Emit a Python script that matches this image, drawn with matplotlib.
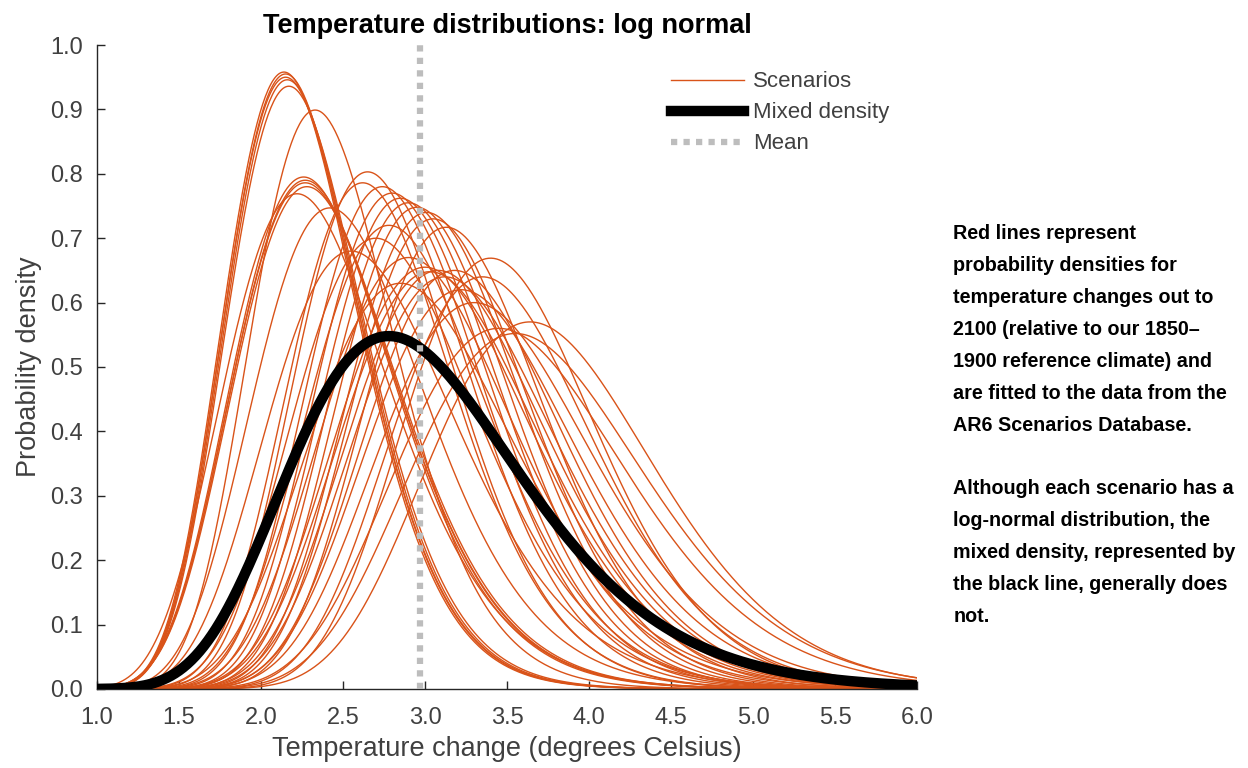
import numpy as np
import matplotlib
matplotlib.use("Agg")
import matplotlib.pyplot as plt

# ---- data ----
# each scenario: mode (deg C) and peak density of its log-normal curve
scenario_modes = [2.14, 2.15, 2.15, 2.16, 2.17,
                  2.33,
                  2.26, 2.27, 2.27, 2.28, 2.22,
                  2.42,
                  2.65, 2.62, 2.74, 2.80, 2.85, 2.90, 2.95, 3.01, 3.05, 3.13,
                  2.55, 2.70, 2.78, 2.90, 3.00, 3.03, 3.08, 3.12, 3.18, 3.22, 3.30,
                  3.40, 3.45, 3.55, 3.64, 2.85, 3.35]
scenario_peaks = [0.958, 0.955, 0.950, 0.946, 0.936,
                  0.899,
                  0.795, 0.790, 0.786, 0.780, 0.769,
                  0.747,
                  0.803, 0.786, 0.780, 0.770, 0.762, 0.755, 0.748, 0.740, 0.730, 0.717,
                  0.680, 0.700, 0.720, 0.670, 0.655, 0.648, 0.650, 0.640, 0.650, 0.620, 0.600,
                  0.669, 0.560, 0.552, 0.570, 0.630, 0.640]
# mixed density: mode and peak
mixed_mode = 2.78
mixed_peak = 0.548
mean_temp = 2.97

x_ticks = [1.0, 1.5, 2.0, 2.5, 3.0, 3.5, 4.0, 4.5, 5.0, 5.5, 6.0]
y_ticks = [0.0, 0.1, 0.2, 0.3, 0.4, 0.5, 0.6, 0.7, 0.8, 0.9, 1.0]

title = "Temperature distributions: log normal"
xlabel = "Temperature change (degrees Celsius)"
ylabel = "Probability density"
note = ("Red lines represent\nprobability densities for\ntemperature changes out to\n"
        "2100 (relative to our 1850–\n1900 reference climate) and\nare fitted to the data from the\n"
        "AR6 Scenarios Database.\n\nAlthough each scenario has a\nlog-normal distribution, the\n"
        "mixed density, represented by\nthe black line, generally does\nnot.")


def sigma_from_mode_peak(m, h):
    # solve exp(-s^2/2)/(m s sqrt(2pi)) = h for s
    lo, hi = 0.01, 1.5
    for _ in range(80):
        mid = 0.5 * (lo + hi)
        val = np.exp(-mid**2 / 2) / (m * mid * np.sqrt(2 * np.pi))
        if val > h:
            lo = mid
        else:
            hi = mid
    return 0.5 * (lo + hi)


def lognorm_pdf(x, m, h):
    s = sigma_from_mode_peak(m, h)
    mu = np.log(m) + s**2
    return np.exp(-(np.log(x) - mu)**2 / (2 * s**2)) / (x * s * np.sqrt(2 * np.pi))


plt.rcParams['font.family'] = ['Liberation Sans', 'DejaVu Sans']

fig = plt.figure(figsize=(12.48, 7.68), dpi=100)
ax = fig.add_axes([0.0777, 0.1029, 0.6571, 0.8385])

orange = '#D95319'
grid = np.linspace(1.0, 6.0, 600)
for i, (m, h) in enumerate(zip(scenario_modes, scenario_peaks)):
    ax.plot(grid, lognorm_pdf(grid, m, h), color=orange, lw=1.0,
            label='Scenarios' if i == 0 else None, zorder=2)

ax.plot(grid, lognorm_pdf(grid, mixed_mode, mixed_peak), color='black', lw=7.5,
        label='Mixed density', zorder=3)
ax.plot([mean_temp, mean_temp], [0, 1], color='#BDBDBD', lw=4.5, linestyle=(0, (1, 1)),
        label='Mean', zorder=4)

ax.set_xlim(1.0, 6.0)
ax.set_ylim(0.0, 1.0)
ax.set_xticks(x_ticks)
ax.set_xticklabels([f"{v:.1f}" for v in x_ticks])
ax.set_yticks(y_ticks)
ax.set_yticklabels([f"{v:.1f}" for v in y_ticks])
for sp in ['top', 'right']:
    ax.spines[sp].set_visible(False)
for sp in ['left', 'bottom']:
    ax.spines[sp].set_color('#262626')
    ax.spines[sp].set_linewidth(1.0)
ax.tick_params(direction='in', length=6, width=1.0, colors='#262626', labelsize=17,
               labelcolor='#404040')
ax.tick_params(axis='y', pad=10)
ax.tick_params(axis='x', pad=13)
ax.set_xlabel(xlabel, fontsize=19.5, color='#404040', labelpad=5)
ax.set_ylabel(ylabel, fontsize=19.5, color='#404040', labelpad=6)
ax.set_title(title, fontsize=19.5, fontweight='bold', pad=9)

leg = ax.legend(loc='upper left', bbox_to_anchor=(0.689, 0.973), frameon=False, fontsize=16,
                handlelength=3.3, labelspacing=0.45, handletextpad=0.4, borderaxespad=0)
for t in leg.get_texts():
    t.set_color('#404040')

fig.text(0.764, 0.708, note, fontsize=14.2, fontweight='bold',
         va='top', ha='left', linespacing=1.86)

fig.savefig('out.png', dpi=100)
